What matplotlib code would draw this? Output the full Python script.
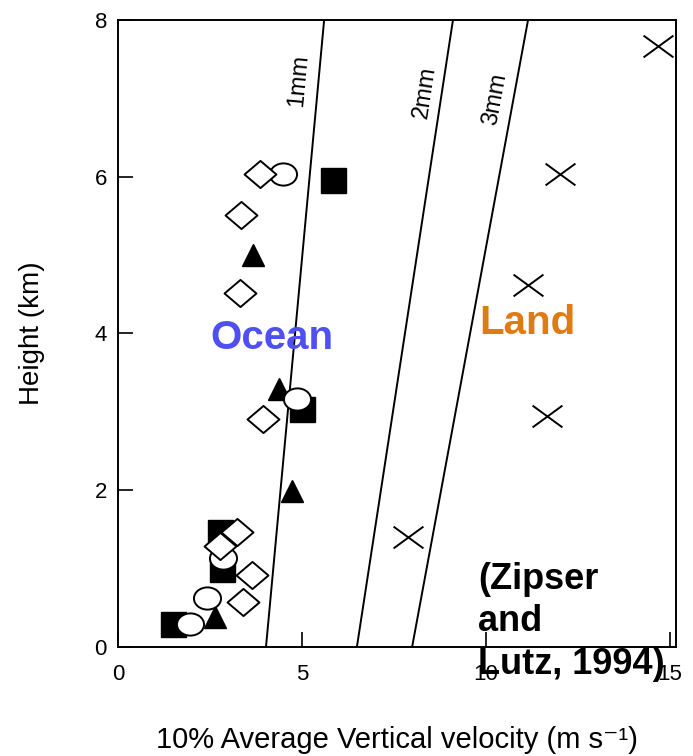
"""Ocean vs land updraft strength profile (after Zipser and Lutz, 1994)."""

import matplotlib
matplotlib.use("Agg")
import matplotlib.pyplot as plt
from matplotlib.path import Path
from matplotlib.transforms import Affine2D

# Ocean cases, one list pair per symbol (x: 10% avg vertical velocity m/s, y: height km)
ocean_square_x = [5.84, 5.00, 2.77, 2.83, 1.49]
ocean_square_y = [5.96, 3.04, 1.47, 0.99, 0.29]
ocean_triangle_x = [3.67, 4.38, 4.73, 2.64]
ocean_triangle_y = [5.00, 3.29, 1.99, 0.38]
ocean_circle_x = [4.48, 4.86, 2.85, 2.42, 1.96]
ocean_circle_y = [6.03, 3.17, 1.14, 0.63, 0.29]
ocean_diamond_x = [3.86, 3.34, 3.32, 3.94, 3.23, 2.77, 3.64, 3.40]
ocean_diamond_y = [6.03, 5.51, 4.51, 2.91, 1.47, 1.29, 0.92, 0.58]

# Land cases
land_x = [14.67, 12.01, 11.14, 11.66, 7.88]
land_y = [7.67, 6.03, 4.62, 2.95, 1.40]

# Reference lines (x at bottom and top of the panel)
ref_labels = ["1mm", "2mm", "3mm"]
ref_x_bottom = [4.02, 6.49, 7.99]
ref_x_top = [5.60, 9.10, 11.14]
ref_label_x = [4.92, 8.34, 10.24]
ref_label_y = [7.23, 7.08, 6.99]
ref_label_rot = [84.7, 81.3, 79.5]

x_ticks = [0, 5, 10, 15]
y_ticks = [0, 2, 4, 6, 8]

FONT = "Liberation Sans"

# flattened marker shapes
diamond = Path([(-1, 0), (0, 0.85), (1, 0), (0, -0.85), (-1, 0)],
               [Path.MOVETO, Path.LINETO, Path.LINETO, Path.LINETO, Path.CLOSEPOLY])
ellipse = Affine2D().scale(1, 0.82).transform_path(Path.unit_circle())
cross = Path([(-1, -0.73), (1, 0.73), (-1, 0.73), (1, -0.73)],
             [Path.MOVETO, Path.LINETO, Path.MOVETO, Path.LINETO])

plt.rcParams['font.family'] = [FONT, 'DejaVu Sans']

fig = plt.figure(figsize=(6.93, 7.56), dpi=100)
ax = fig.add_axes([0.1703, 0.1442, 0.8052, 0.8294])

ax.set_xlim(0, 15.16)
ax.set_ylim(0, 8)

# thin reference lines
for xb, xt in zip(ref_x_bottom, ref_x_top):
    ax.plot([xb, xt], [0, 8], color='black', lw=1.4, zorder=1)
for lab, lx, ly, rot in zip(ref_labels, ref_label_x, ref_label_y, ref_label_rot):
    ax.text(lx, ly, lab, fontsize=17, rotation=rot, rotation_mode='anchor',
            ha='center', va='center')

# ocean symbols
ax.plot(ocean_square_x, ocean_square_y, ls='none', marker='s', ms=18,
        mfc='black', mec='black', zorder=3)
ax.plot(ocean_triangle_x, ocean_triangle_y, ls='none', marker='^', ms=16,
        mfc='black', mec='black', zorder=4)
ax.plot(ocean_circle_x, ocean_circle_y, ls='none', marker=ellipse, ms=19.5,
        mfc='white', mec='black', mew=1.4, zorder=5)
ax.plot(ocean_diamond_x, ocean_diamond_y, ls='none', marker=diamond, ms=23,
        mfc='white', mec='black', mew=1.4, zorder=6)

# land symbols
ax.plot(land_x, land_y, ls='none', marker=cross, ms=21.5, mfc='none',
        mec='black', mew=1.4, zorder=5)

ax.text(4.18, 3.94, "Ocean", color='#4f4ff2', fontsize=29, fontweight='bold',
        ha='center', va='center', zorder=7)
ax.text(11.11, 4.13, "Land", color='#e07a12', fontsize=29, fontweight='bold',
        ha='center', va='center', zorder=7)
ax.text(9.78, 1.09, "(Zipser\nand\nLutz, 1994)", color='black', fontsize=26,
        fontweight='bold', ha='left', va='top', linespacing=1.28, zorder=8)

ax.set_xticks(x_ticks)
ax.set_yticks(y_ticks)
ax.tick_params(direction='in', length=11, width=1.2, labelsize=16)
ax.tick_params(axis='x', pad=12)
ax.tick_params(axis='y', pad=8)
for side in ax.spines.values():
    side.set_linewidth(1.4)

ax.set_xlabel("10% Average Vertical velocity (m s⁻¹)", fontsize=21, labelpad=30)
ax.set_ylabel("Height (km)", fontsize=20, labelpad=36)

plt.savefig("out.png", dpi=100)
plt.close()
